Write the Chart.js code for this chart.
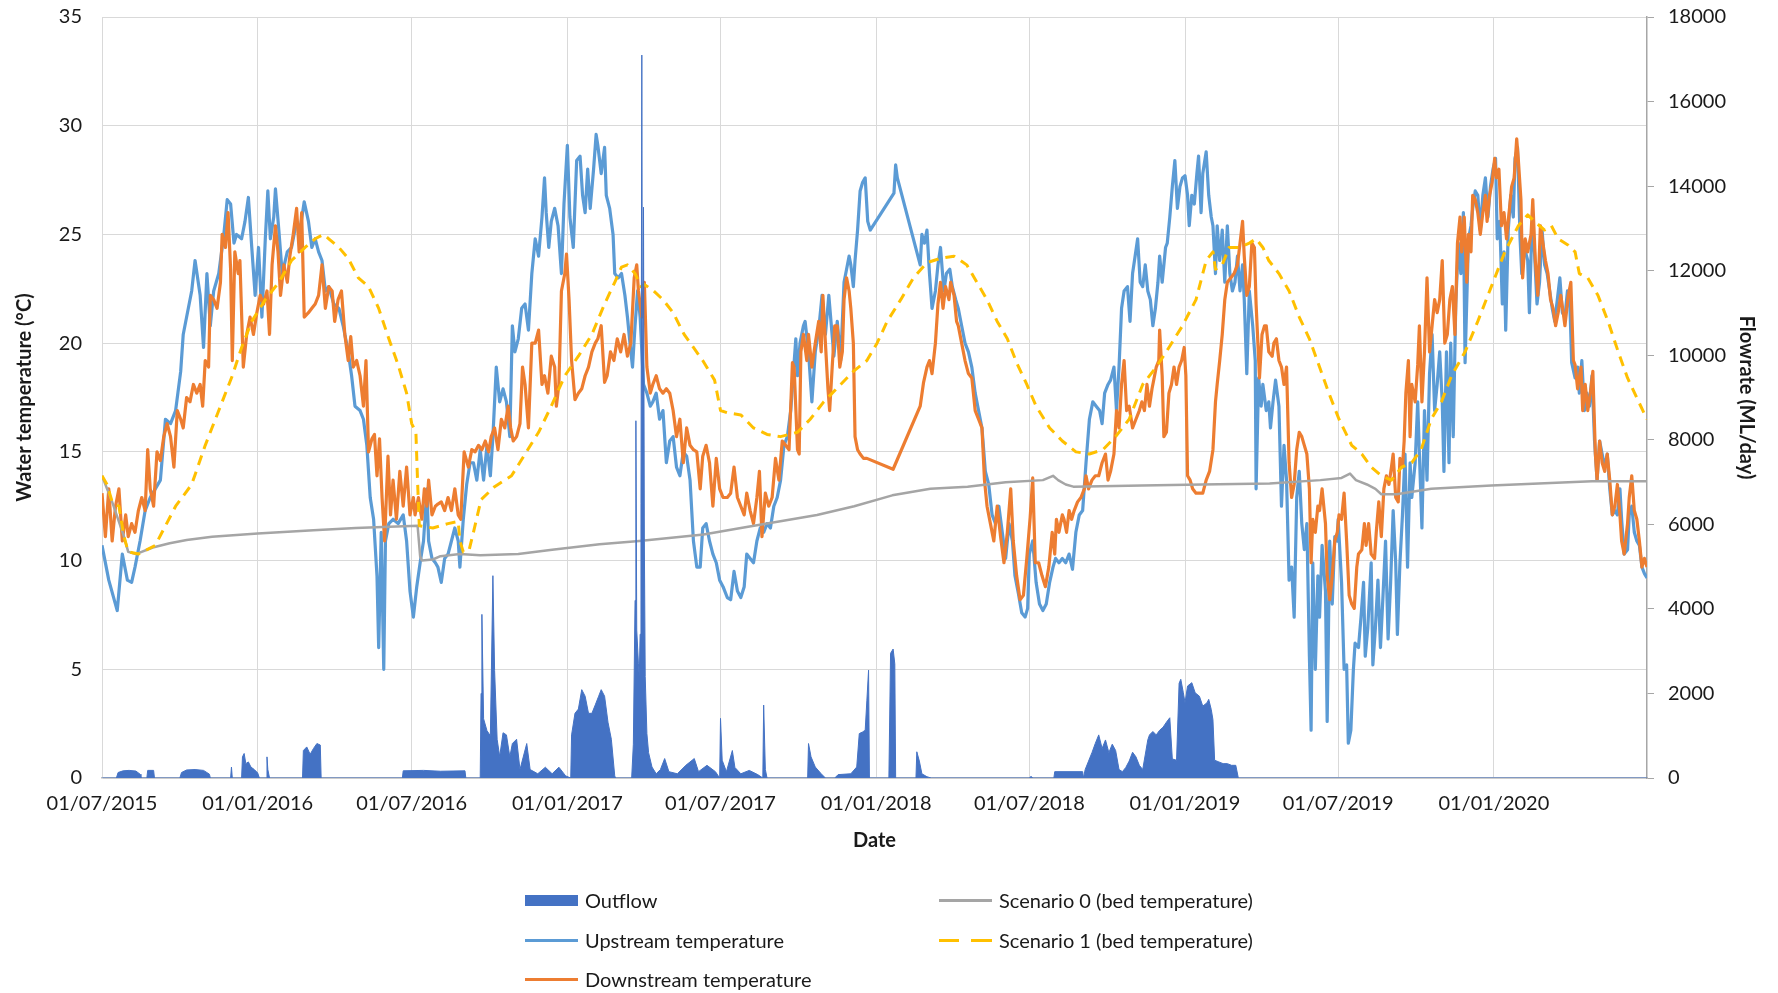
<!DOCTYPE html>
<html>
<head>
<meta charset="utf-8">
<script src="https://cdn.jsdelivr.net/npm/chart.js@4.4.1/dist/chart.umd.min.js"></script>
<style>
  html, body { margin: 0; padding: 0; background: #fff; }
  #wrap { position: relative; width: 1778px; height: 993px; font-family: Lato, "Liberation Sans", sans-serif; }
  #legend { position: absolute; left: 0; top: 0; width: 100%; height: 100%; pointer-events: none; }
  .lg-item { position: absolute; display: flex; align-items: center; font-size: 20px; color: #1a1a1a; white-space: nowrap; }
  .lg-mark { width: 53px; margin-right: 7px; }
</style>
</head>
<body>
<div id="wrap">
  <canvas id="chart" width="1778" height="993"></canvas>
  <div id="legend"></div>
</div>
<script>
// Water temperature vs outflow, Jul 2015 - Jun 2020
// x values are days since 01/07/2015

const dateTickLabels = ['01/07/2015', '01/01/2016', '01/07/2016', '01/01/2017', '01/07/2017',
  '01/01/2018', '01/07/2018', '01/01/2019', '01/07/2019', '01/01/2020'];
const lastDate = '30/06/2020';

// Outflow (ML/day), right axis
const outflow = [[0,0],[17,0],[19,130],[25,170],[32,180],[40,165],[45,90],[46,0],[53,0],[54,180],[61,180],[62,0],
  [92,0],[94,130],[100,190],[110,200],[120,180],[127,90],[128,0],[152,0],[153,260],[154,0],[165,0],[166,500],[168,580],
  [170,340],[173,380],[176,260],[180,200],[184,120],[186,0],[194,0],[195,500],[196,200],[198,0],[237,0],[238,650],
  [242,735],[246,560],[250,700],[254,815],[258,780],[259,0],[355,0],[356,170],[380,180],[400,160],[429,170],[430,0],
  [447,0],[448,2000],[449,3870],[451,1400],[455,1120],[459,1000],[462,4785],[464,2545],[467,916],[470,510],[474,1070],
  [478,1020],[482,500],[485,815],[490,916],[494,200],[502,815],[506,200],[515,100],[524,255],[532,100],[540,255],[548,50],
  [554,0],[555,1020],[559,1530],[563,1630],[567,2090],[571,1935],[575,1530],[579,1530],[583,1730],[587,1935],[590,2090],
  [594,1935],[598,1320],[602,916],[606,50],[607,0],[626,0],[628,800],[630,4200],[631,8450],[632,3500],[634,2700],
  [635,2400],[636,3400],[637,6500],[638,17100],[639,6000],[640,13500],[641,5600],[642,2400],[644,1050],[646,600],
  [650,260],[655,100],[660,200],[665,460],[670,150],[680,100],[690,300],[700,460],[705,150],[715,300],[725,150],[730,0],
  [731,1410],[733,420],[738,150],[745,650],[748,250],[755,100],[765,180],[775,80],[781,0],[782,1725],[784,200],[786,0],
  [834,0],[835,815],[838,500],[843,260],[850,100],[855,0],[866,0],[870,80],[885,100],[892,260],[895,1050],[899,1090],
  [902,1130],[904,1840],[906,2550],[907,0],[930,0],[932,2950],[935,3050],[937,2700],[938,0],[962,0],[963,620],[966,400],
  [969,100],[975,30],[980,0],[1096,0],[1098,40],[1100,0],[1125,0],[1126,150],[1159,150],[1160,0],[1162,200],[1166,400],
  [1170,600],[1174,820],[1178,1020],[1182,700],[1186,900],[1190,600],[1194,800],[1198,650],[1202,200],[1206,150],
  [1210,250],[1214,400],[1218,610],[1222,500],[1226,300],[1230,200],[1236,900],[1238,1020],[1242,1100],[1246,1020],
  [1250,1130],[1254,1200],[1258,1320],[1262,1425],[1265,450],[1270,420],[1273,2240],[1275,2335],[1278,2015],[1280,1780],
  [1283,2175],[1288,2255],[1292,2015],[1297,1935],[1301,1700],[1306,1780],[1308,1860],[1311,1620],[1313,1380],
  [1315,420],[1320,380],[1325,340],[1330,340],[1335,300],[1340,300],[1343,0],[1826,0]];

// Upstream temperature (°C)
const upstream = [[0,10.7],[8,9.1],[18,7.7],[24,10.3],[30,9.1],[35,9.0],[39,9.7],[45,10.9],[51,12.3],[57,12.9],[63,13.3],
  [69,13.7],[75,16.5],[81,16.3],[87,16.9],[93,18.7],[96,20.4],[100,21.2],[106,22.4],[110,23.8],[116,22.2],[120,19.8],
  [124,23.2],[128,20.8],[132,22.4],[138,23.2],[144,25.0],[148,26.6],[152,26.4],[156,24.6],[159,25.0],[165,24.8],
  [169,25.6],[173,26.7],[177,24.4],[181,22.2],[185,24.4],[189,21.2],[193,24.8],[196,27.0],[199,24.8],[203,25.8],
  [205,27.1],[209,25.2],[213,23.2],[219,24.2],[224,24.4],[230,25.6],[234,25.2],[239,26.5],[244,25.6],[248,24.4],
  [252,24.8],[256,24.2],[260,23.8],[264,22.4],[268,22.6],[274,21.8],[280,21.6],[285,20.8],[291,19.6],[295,18.5],
  [299,17.1],[305,16.9],[309,16.5],[313,15.3],[317,12.9],[321,11.9],[325,9.3],[327,6.0],[330,11.3],[333,5.0],[335,10.9],
  [339,11.7],[344,11.9],[350,11.7],[356,12.1],[360,10.9],[364,8.6],[368,7.4],
  [372,8.8],[376,9.9],[380,10.9],[384,13.3],[386,10.9],[390,10.1],[394,9.9],[397,9.7],[401,9.0],[405,10.1],[409,10.3],
  [413,10.9],[417,11.5],[421,10.9],[423,9.7],[427,11.9],[431,13.5],[435,14.5],[439,14.5],[443,13.7],[447,15.1],
  [451,13.7],[455,15.3],[459,13.9],[462,15.7],[466,18.9],[470,17.3],[474,17.9],[478,17.3],[482,15.7],[485,20.8],
  [488,19.6],[492,20.2],[496,21.6],[500,21.8],[504,20.6],[508,23.2],[512,24.8],[516,24.0],[520,25.8],[523,27.6],
  [525,26.0],[528,24.4],[531,25.6],[535,26.2],[539,25.4],[543,23.2],[546,26.4],[550,29.1],[553,25.8],[557,24.4],
  [561,28.4],[565,28.6],[568,26.8],[571,26.0],[574,28.0],[577,26.2],[581,28.0],[584,29.6],[586,29.1],[590,27.8],
  [594,29.0],[596,26.8],[600,26.2],[604,25.0],[606,23.2],[610,23.0],[614,23.2],[618,22.2],[621,21.2],[624,20.0],
  [627,18.9],[630,20.8],[633,22.4],[636,21.2],[640,18.1],[644,17.7],[648,17.1],[651,17.3],[655,17.7],[659,16.5],
  [663,16.9],[667,14.5],[671,15.5],[675,15.7],[679,14.3],[683,13.9],[687,15.0],[691,14.8],[695,13.7],[699,10.9],
  [703,9.7],[707,9.7],[710,11.5],[714,11.7],[718,10.9],[722,10.3],[726,9.9],[730,9.1],[734,8.8],
  [739,8.3],[743,8.2],[747,9.5],[751,8.6],[755,8.3],[759,8.8],[762,10.3],[766,10.1],[770,9.9],[774,10.9],[778,11.5],
  [782,11.3],[786,11.7],[790,11.5],[794,12.5],[798,12.9],[802,13.7],[806,15.3],[810,15.7],[814,16.9],[818,19.1],
  [820,20.2],[822,18.5],[825,20.0],[829,20.8],[831,21.0],[835,19.6],[839,17.3],[843,19.6],[847,20.6],[851,22.2],
  [855,20.4],[859,22.2],[862,20.8],[865,19.4],[869,21.0],[873,19.2],[877,22.8],[880,23.4],[883,24.0],[885,23.6],
  [888,22.6],[890,23.8],[893,25.2],[896,27.0],[899,27.4],[902,27.6],[905,25.6],[908,25.2],[936,26.9],[938,28.2],
  [940,27.6],[967,23.6],[969,25.0],[972,24.6],[975,25.2],[978,23.2],[981,21.6],[985,22.4],[988,23.6],[991,24.4],
  [995,22.4],[998,23.2],[1002,23.4],[1005,22.6],[1009,22.0],[1012,21.6],[1016,20.8],[1020,20.0],[1024,19.6],[1028,18.9],
  [1032,17.7],[1036,16.9],[1040,16.1],[1044,14.1],[1048,13.5],[1052,12.1],[1056,11.7],[1060,12.5],[1064,11.3],
  [1068,10.1],[1072,11.7],[1076,10.9],[1079,9.3],[1083,8.5],[1087,7.6],[1091,7.4],[1094,7.8],[1096,10.3],[1100,10.9],
  [1104,9.0],[1108,8.0],[1112,7.7],[1116,8.0],[1120,9.0],[1124,9.7],[1127,10.1],[1131,9.9],[1135,10.1],[1139,9.9],
  [1143,10.3],[1147,9.6],[1151,11.3],[1155,12.1],[1159,12.3],[1163,14.5],[1167,16.5],[1171,17.3],[1175,17.1],
  [1179,16.9],[1182,16.3],[1185,17.7],[1189,18.1],[1192,18.3],[1196,18.9],[1199,16.9],[1202,18.9],[1205,21.6],
  [1208,22.4],[1212,22.6],[1215,21.0],[1218,23.2],[1221,24.0],[1224,24.8],[1227,22.8],[1230,22.6],[1233,23.6],
  [1236,22.4],[1239,22.0],[1242,20.8],[1245,21.6],[1248,22.8],[1250,24.0],[1253,22.8],[1257,24.4],[1259,24.6],
  [1262,25.8],[1265,27.2],[1268,28.4],[1271,26.2],[1274,27.2],[1277,27.6],[1280,27.7],[1283,26.8],[1285,25.4],
  [1288,26.8],[1291,26.4],[1294,27.8],[1296,28.6],[1299,26.0],[1301,27.8],[1305,28.8],[1308,26.8],[1311,25.8],
  [1313,25.4],[1316,23.2],[1318,25.4],[1321,23.8],[1324,25.2],[1327,22.8],[1330,25.4],[1333,23.2],[1336,22.4],
  [1339,22.8],[1342,24.0],[1345,22.4],[1348,23.6],[1350,22.0],[1353,18.6],[1356,22.4],[1360,20.8],[1363,19.2],
  [1364,13.3],[1367,18.4],[1370,17.1],[1372,18.1],[1376,16.9],[1379,17.3],[1381,16.1],[1384,17.3],[1387,18.3],
  [1391,17.1],[1394,12.5],[1397,15.3],[1400,13.7],[1403,9.1],[1406,9.7],[1409,7.4],[1412,12.9],[1415,14.1],[1418,11.7],
  [1421,10.5],[1424,11.7],[1427,5.6],[1429,2.2],[1431,9.9],[1434,5.0],[1437,9.3],[1439,7.4],[1442,10.7],[1446,8.6],
  [1448,2.6],[1451,10.9],[1454,8.0],[1457,11.1],[1460,10.9],[1461,11.9],[1465,9.0],[1468,5.0],[1471,5.2],[1473,1.6],
  [1476,2.2],[1479,5.0],[1481,6.2],[1485,6.0],[1488,7.4],[1491,9.0],[1493,5.6],[1496,6.9],[1500,9.9],[1502,5.2],
  [1505,6.9],[1508,9.1],[1511,6.0],[1514,8.4],[1517,10.9],[1520,6.4],[1523,9.0],[1526,12.3],[1529,9.9],[1531,6.6],
  [1534,9.9],[1537,12.1],[1540,14.9],[1543,9.7],[1546,14.5],[1548,12.9],[1552,14.5],[1555,17.3],[1557,14.9],
  [1560,11.5],[1563,16.9],[1566,13.7],[1569,18.6],[1572,20.4],[1575,16.9],[1578,18.1],[1581,19.6],[1584,17.3],
  [1586,14.1],[1589,19.6],[1592,14.5],[1594,20.0],[1597,15.7],[1600,21.8],[1603,24.6],[1606,23.2],[1609,26.0],
  [1611,19.1],[1615,24.8],[1618,25.4],[1620,26.2],[1623,27.0],[1626,26.8],[1629,25.2],[1632,26.8],[1635,27.6],
  [1638,25.8],[1641,27.2],[1644,28.0],[1647,28.5],[1649,24.8],[1652,25.6],[1655,21.8],[1657,24.2],[1659,20.6],
  [1662,25.2],[1665,26.8],[1668,25.8],[1670,28.5],[1673,29.0],[1676,24.8],[1678,23.2],[1681,24.4],[1685,23.8],
  [1687,21.4],[1690,25.4],[1693,24.2],[1696,21.8],[1699,22.8],[1702,25.2],[1705,23.6],[1708,23.2],[1711,22.4],
  [1714,21.6],[1717,21.0],[1720,22.0],[1723,23.0],[1726,21.4],[1729,21.2],[1732,22.4],[1735,21.6],[1737,19.1],
  [1741,18.4],[1744,18.9],[1746,17.7],[1749,19.2],[1752,16.9],[1755,17.7],[1758,17.1],[1761,18.5],[1764,15.5],
  [1767,13.7],[1770,15.5],[1773,14.9],[1776,14.3],[1779,14.9],[1782,13.3],[1785,12.1],[1788,12.3],[1791,12.1],
  [1794,13.3],[1796,11.9],[1799,10.3],[1803,10.5],[1805,12.1],[1808,12.5],[1811,11.3],[1814,10.9],[1817,10.7],
  [1820,9.7],[1823,9.4],[1826,9.2]];

// Downstream temperature (°C)
const downstream = [[0,13.1],[4,11.1],[8,13.3],[12,10.9],[16,12.5],[20,13.3],[24,10.9],[28,12.1],[31,11.1],[35,11.7],
  [39,11.3],[43,12.3],[47,12.9],[51,12.3],[54,15.1],[57,13.3],[61,12.5],[65,15.0],[69,14.6],[73,15.7],[77,16.3],
  [81,15.7],[85,14.3],[89,16.9],[93,16.5],[96,16.1],[100,17.5],[104,17.3],[108,18.1],[112,17.7],[116,18.1],[119,17.1],
  [122,19.2],[126,18.9],[128,22.2],[132,22.0],[136,21.6],[140,22.8],[142,25.0],[146,24.4],[149,26.0],[152,23.4],
  [154,19.2],[157,24.2],[161,23.2],[163,23.8],[167,18.9],[171,20.4],[175,21.2],[179,20.4],[183,21.4],[187,22.2],
  [191,21.8],[195,22.4],[198,20.4],[201,23.6],[205,25.4],[208,24.2],[211,22.2],[215,23.6],[219,22.8],[222,24.0],
  [226,25.0],[230,26.2],[233,24.2],[236,26.0],[239,21.2],[244,21.4],[248,21.6],[252,21.8],[256,22.2],[260,23.6],
  [264,21.6],[268,22.6],[272,22.4],[275,21.0],[279,22.0],[283,22.4],[287,20.4],[291,19.2],[294,20.3],[297,18.9],
  [301,19.2],[305,18.5],[309,17.1],[312,19.2],[315,15.0],[319,15.6],[322,15.8],[325,13.9],[328,15.6],[331,12.9],
  [334,10.9],[338,14.8],[341,12.1],[344,13.7],[348,11.9],[352,14.1],[356,12.5],[360,14.3],[364,12.1],[368,12.9],
  [370,12.1],[374,12.9],[378,11.9],[381,13.3],[384,12.5],[386,13.7],[390,12.1],[394,12.5],[397,12.6],[401,12.7],
  [405,12.3],[409,12.9],[413,12.3],[417,13.3],[421,12.1],[424,11.9],[428,15.0],[433,14.3],[437,15.1],[441,15.0],
  [445,15.3],[449,15.1],[453,15.5],[457,15.0],[460,15.7],[464,16.1],[468,15.1],[472,16.5],[476,16.1],[480,17.1],
  [483,16.1],[486,15.5],[490,15.7],[494,16.3],[497,18.9],[500,18.1],[504,16.1],[508,20.0],[512,20.0],[516,20.6],
  [520,18.1],[523,18.5],[527,17.7],[531,19.4],[535,18.9],[537,17.1],[540,18.1],[543,22.4],[547,23.2],[549,24.1],
  [552,22.0],[555,19.2],[559,17.4],[563,17.7],[567,17.9],[571,18.5],[575,18.9],[579,19.6],[583,20.0],[586,20.2],
  [590,20.8],[594,18.2],[597,18.5],[601,19.6],[605,19.2],[609,20.2],[613,19.6],[617,20.4],[621,19.4],[625,20.0],
  [629,23.0],[632,23.6],[634,22.4],[638,21.2],[641,22.8],[644,18.9],[648,17.7],[651,18.1],[655,18.5],[659,17.9],
  [663,17.7],[667,17.9],[671,17.7],[675,16.9],[679,15.7],[683,16.5],[687,14.5],[691,16.1],[695,15.3],[699,15.1],
  [703,15.0],[707,13.3],[710,14.8],[714,15.3],[718,14.5],[722,12.5],[726,14.7],[730,13.3],[734,12.9],
  [739,12.9],[743,13.1],[747,14.3],[751,12.9],[755,12.5],[759,12.1],[762,13.1],[766,12.3],[770,11.7],[774,12.9],
  [777,14.1],[780,11.1],[784,13.1],[788,12.5],[792,12.9],[796,14.7],[800,13.7],[804,15.5],[808,15.3],[812,15.1],
  [816,19.1],[818,18.9],[822,15.1],[824,14.9],[826,19.6],[829,20.4],[833,19.2],[835,20.4],[839,18.9],[843,20.0],
  [847,21.0],[850,19.6],[852,22.2],[855,20.0],[858,17.9],[860,16.9],[863,18.9],[866,20.8],[869,20.8],[872,18.9],
  [875,19.6],[877,22.0],[880,23.0],[883,22.4],[885,21.6],[888,20.0],[890,15.7],[893,15.1],[896,14.9],[900,14.7],
  [904,14.7],[935,14.2],[967,17.1],[971,18.2],[975,18.9],[978,19.2],[981,18.6],[985,20.0],[988,21.8],[991,22.8],
  [994,21.6],[997,22.6],[1001,22.0],[1003,22.8],[1007,22.2],[1010,21.0],[1012,20.8],[1016,20.0],[1020,19.2],
  [1024,18.6],[1028,18.4],[1032,16.9],[1036,16.5],[1040,16.1],[1043,13.7],[1046,12.5],[1050,11.7],[1054,10.9],
  [1058,12.5],[1062,11.1],[1066,9.9],[1070,11.3],[1074,13.3],[1077,10.9],[1081,9.3],[1085,8.2],[1089,8.4],[1093,10.1],
  [1097,12.0],[1100,13.8],[1103,9.9],[1107,9.9],[1111,9.3],[1115,8.8],[1119,9.7],[1123,11.3],[1126,10.3],[1128,11.9],
  [1131,11.3],[1135,12.1],[1137,11.9],[1140,11.3],[1143,12.3],[1146,11.9],[1149,12.3],[1153,12.7],[1157,12.9],
  [1161,13.3],[1163,13.9],[1166,13.3],[1170,13.7],[1174,13.9],[1178,13.9],[1182,14.5],[1186,14.9],[1189,13.7],
  [1192,14.1],[1196,14.9],[1199,16.9],[1202,16.1],[1205,18.1],[1208,19.2],[1211,16.9],[1214,17.1],[1218,16.1],
  [1222,16.5],[1226,16.9],[1229,17.3],[1232,16.9],[1235,18.1],[1238,17.1],[1241,17.9],[1244,18.5],[1246,18.9],
  [1249,19.2],[1250,20.6],[1253,18.5],[1255,15.7],[1258,15.9],[1261,17.7],[1264,18.1],[1267,18.9],[1270,18.1],
  [1273,18.9],[1276,19.2],[1279,19.8],[1281,18.5],[1283,13.9],[1286,13.7],[1289,13.3],[1293,13.1],[1297,13.1],
  [1301,13.1],[1305,13.7],[1309,14.1],[1313,15.1],[1316,17.3],[1318,18.1],[1321,19.2],[1324,20.4],[1327,22.0],
  [1330,22.8],[1334,23.0],[1338,23.2],[1342,23.6],[1345,24.6],[1348,25.6],[1350,24.0],[1353,22.2],[1356,22.6],
  [1359,24.6],[1362,24.4],[1364,21.8],[1368,18.4],[1371,20.4],[1374,20.8],[1376,20.8],[1379,19.6],[1383,19.4],
  [1385,20.0],[1388,20.2],[1391,19.2],[1394,18.9],[1397,18.1],[1400,18.9],[1403,14.5],[1406,12.9],[1409,13.5],
  [1412,15.1],[1415,15.9],[1418,15.7],[1421,15.3],[1424,14.9],[1427,13.3],[1429,9.9],[1431,11.9],[1434,11.3],
  [1437,12.5],[1439,12.3],[1442,13.3],[1446,11.7],[1448,9.3],[1451,8.2],[1454,9.3],[1457,10.9],[1460,11.3],
  [1462,12.1],[1465,11.9],[1468,13.1],[1471,10.9],[1474,8.4],[1477,8.0],[1480,7.8],[1483,9.7],[1485,10.3],[1489,10.5],
  [1492,11.7],[1494,10.7],[1497,11.7],[1500,10.3],[1504,10.1],[1506,11.3],[1509,12.7],[1512,11.1],[1515,13.3],
  [1518,13.9],[1521,13.5],[1524,14.3],[1526,14.9],[1529,12.9],[1532,12.7],[1534,14.7],[1537,14.3],[1539,15.5],
  [1541,17.7],[1544,19.2],[1546,15.7],[1548,18.1],[1552,17.3],[1555,19.0],[1557,20.8],[1560,17.3],[1563,19.6],
  [1566,23.0],[1569,19.6],[1572,20.8],[1575,22.0],[1578,21.4],[1581,22.0],[1584,23.8],[1587,20.0],[1590,20.4],
  [1593,22.0],[1596,22.6],[1599,20.4],[1602,24.6],[1605,25.8],[1607,24.2],[1610,25.8],[1613,22.8],[1615,25.0],
  [1618,24.2],[1620,26.8],[1623,26.6],[1626,26.0],[1629,25.0],[1632,26.0],[1635,26.8],[1637,25.6],[1640,26.8],
  [1643,27.4],[1646,28.5],[1648,27.6],[1651,28.0],[1654,25.4],[1657,26.0],[1660,24.8],[1663,26.0],[1666,27.2],
  [1669,27.6],[1672,29.4],[1674,28.4],[1677,26.6],[1679,23.0],[1682,24.8],[1685,24.2],[1689,25.0],[1691,26.6],
  [1694,23.8],[1697,22.2],[1700,25.4],[1703,24.6],[1706,23.8],[1709,23.2],[1712,22.0],[1715,21.6],[1718,20.8],
  [1721,21.4],[1724,22.2],[1727,21.4],[1729,20.8],[1733,22.2],[1736,22.8],[1739,19.2],[1741,19.0],[1744,17.9],
  [1748,18.9],[1750,16.9],[1753,18.1],[1756,16.9],[1759,17.7],[1762,18.7],[1765,14.9],[1767,13.7],[1770,15.5],
  [1773,14.5],[1776,14.1],[1779,14.9],[1782,13.7],[1785,12.1],[1788,12.5],[1791,13.5],[1794,12.1],[1796,10.9],
  [1799,10.3],[1803,11.7],[1805,12.9],[1808,13.9],[1811,12.3],[1814,11.9],[1817,10.9],[1820,9.7],[1823,10.1],[1826,9.7]];

// Scenario 0 (bed temperature)
const scenario0 = [[0,13.9],[12,12.7],[26,11.1],[31,10.4],[40,10.3],[60,10.6],[80,10.8],[100,10.95],[130,11.1],
  [184,11.25],[250,11.4],[300,11.5],[340,11.55],[373,11.6],[376,10.2],[378,10.0],[391,10.05],[400,10.2],[423,10.3],
  [447,10.25],[492,10.3],[532,10.5],[588,10.75],[635,10.9],[711,11.2],[755,11.5],[800,11.8],[845,12.1],[889,12.5],
  [934,13.0],[979,13.3],[1023,13.4],[1068,13.6],[1112,13.7],[1124,13.9],[1130,13.7],[1139,13.5],[1148,13.4],
  [1229,13.45],[1300,13.5],[1380,13.55],[1440,13.7],[1465,13.8],[1475,14.0],[1482,13.7],[1495,13.5],[1505,13.3],
  [1512,13.05],[1530,13.05],[1571,13.3],[1642,13.45],[1761,13.65],[1826,13.65]];

// Scenario 1 (bed temperature)
const scenario1 = [[0,13.9],[6,13.5],[12,12.7],[20,12.5],[26,11.1],[31,10.4],[43,10.3],[63,10.7],[71,11.3],[87,12.5],
  [106,13.5],[122,15.3],[138,16.9],[154,18.5],[165,19.8],[177,21.0],[193,22.0],[209,22.8],[224,23.8],[240,24.4],
  [252,24.8],[262,25.0],[268,24.8],[280,24.4],[291,23.9],[303,23.0],[315,22.6],[327,21.6],[339,20.2],[350,19.0],
  [360,17.7],[366,16.3],[371,15.9],[373,13.6],[375,11.6],[391,11.5],[409,11.7],[421,11.8],[423,10.9],[427,10.4],
  [434,10.5],[439,11.3],[448,12.8],[464,13.4],[484,13.9],[500,14.9],[516,15.9],[531,17.1],[547,18.5],[563,19.4],
  [579,20.4],[594,21.8],[606,22.8],[614,23.5],[621,23.6],[630,23.2],[637,22.6],[641,22.7],[652,22.4],[663,22.0],
  [675,21.4],[688,20.4],[699,19.8],[710,19.2],[724,18.3],[731,16.9],[739,16.8],[755,16.7],[770,16.1],[786,15.8],
  [802,15.7],[822,15.9],[837,16.5],[853,17.3],[873,18.1],[888,18.7],[904,19.2],[916,20.0],[928,21.0],[944,22.0],
  [959,23.0],[975,23.7],[991,23.9],[1007,24.0],[1022,23.6],[1034,22.8],[1046,22.0],[1058,21.0],[1070,20.2],
  [1081,19.1],[1093,18.1],[1104,17.1],[1120,16.1],[1135,15.5],[1151,15.0],[1167,14.9],[1183,15.1],[1198,15.7],
  [1214,16.5],[1230,18.1],[1246,18.9],[1261,19.8],[1277,20.8],[1293,22.0],[1305,23.8],[1313,24.2],[1316,23.4],
  [1324,23.6],[1332,24.4],[1344,24.4],[1356,24.6],[1364,24.8],[1372,24.4],[1379,23.8],[1391,23.2],[1403,22.4],
  [1415,21.2],[1427,20.2],[1439,18.9],[1450,17.7],[1462,16.5],[1477,15.3],[1489,14.9],[1500,14.3],[1512,13.9],
  [1524,13.7],[1536,14.3],[1548,14.5],[1559,15.1],[1571,16.5],[1583,17.3],[1595,18.5],[1611,19.6],[1626,21.0],
  [1642,22.6],[1658,24.2],[1674,25.4],[1685,25.9],[1693,25.6],[1705,25.2],[1713,25.4],[1721,24.8],[1733,24.5],
  [1741,24.2],[1746,23.2],[1756,23.0],[1768,22.2],[1780,21.0],[1792,19.6],[1803,18.4],[1815,17.4],[1826,16.5]];

const startUTC = Date.UTC(2015, 6, 1);
function dayOf(label) {
  const p = label.split('/').map(Number);
  return Math.round((Date.UTC(p[2], p[1] - 1, p[0]) - startUTC) / 86400000);
}
const tickDays = dateTickLabels.map(dayOf);
const pts = arr => arr.map(p => ({ x: p[0], y: p[1] }));

Chart.defaults.font.family = 'Lato, "Liberation Sans", sans-serif';
Chart.defaults.font.size = 20;
Chart.defaults.color = '#1a1a1a';

const lineBase = { pointRadius: 0, tension: 0, borderJoinStyle: 'round', fill: false, yAxisID: 'y' };

// vertical axes: fixed width, and no extra room above/below the plot for the end labels
function fixWidth(w) {
  return s => { s.width = w; s.paddingTop = 0; s.paddingBottom = 0; };
}

const chart = new Chart(document.getElementById('chart'), {
  type: 'line',
  data: {
    datasets: [
      { label: 'Outflow', data: pts(outflow), yAxisID: 'y2', pointRadius: 0, tension: 0, borderWidth: 1,
        borderColor: '#4472C4', backgroundColor: '#4472C4', fill: 'origin', order: 0 },
      Object.assign({ label: 'Upstream temperature', data: pts(upstream), borderColor: '#5B9BD5', borderWidth: 3.2, order: 4 }, lineBase),
      Object.assign({ label: 'Downstream temperature', data: pts(downstream), borderColor: '#ED7D31', borderWidth: 3.2, order: 3 }, lineBase),
      Object.assign({ label: 'Scenario 0 (bed temperature)', data: pts(scenario0), borderColor: '#A5A5A5', borderWidth: 2.5, order: 2 }, lineBase),
      Object.assign({ label: 'Scenario 1 (bed temperature)', data: pts(scenario1), borderColor: '#FFC000', borderWidth: 3,
        borderDash: [10, 7], order: 1 }, lineBase),
    ],
  },
  options: {
    responsive: false, animation: false, devicePixelRatio: 1,
    layout: { padding: { left: 0, right: 0, top: 17, bottom: 130 } },
    plugins: { legend: { display: false }, tooltip: { enabled: false } },
    scales: {
      x: {
        type: 'linear', min: 0, max: dayOf(lastDate),
        afterBuildTicks: s => { s.ticks = tickDays.map(v => ({ value: v })); },
        afterFit: s => { s.height = 85; },
        ticks: { padding: 14, maxRotation: 0, autoSkip: false,
          callback: v => dateTickLabels[tickDays.indexOf(v)] },
        grid: { color: '#D9D9D9', lineWidth: 1, drawTicks: false },
        border: { color: '#BFBFBF', width: 1.5 },
        title: { display: true, text: 'Date', font: { weight: 'bold', size: 20 }, padding: { top: 0, bottom: 10 } },
      },
      y: {
        position: 'left', min: 0, max: 35,
        ticks: { stepSize: 5, padding: 20 },
        afterFit: fixWidth(102),
        grid: { color: '#D9D9D9', lineWidth: 1, drawTicks: false },
        border: { color: '#D9D9D9' },
        title: { display: true, text: 'Water temperature (°C)', font: { weight: 'bold', size: 20 }, padding: { top: 13, bottom: 0 } },
      },
      y2: {
        position: 'right', min: 0, max: 18000,
        ticks: { stepSize: 2000, padding: 14, callback: v => String(v) },
        afterFit: fixWidth(131),
        grid: { drawOnChartArea: false, drawTicks: true, tickLength: 7, color: '#A6A6A6' },
        border: { color: '#A6A6A6', width: 1.5 },
        title: { display: true, text: 'Flowrate (ML/day)', font: { weight: 'bold', size: 20 }, padding: { top: 20, bottom: 0 } },
      },
    },
  },
});

// legend laid out like the spreadsheet's: two columns, three rows
const legendSpots = [
  { ds: 0, left: 525, top: 900, mark: 'box' },
  { ds: 3, left: 939, top: 900, mark: 'line' },
  { ds: 1, left: 525, top: 940, mark: 'line' },
  { ds: 4, left: 939, top: 940, mark: 'dash' },
  { ds: 2, left: 525, top: 979, mark: 'line' },
];
const lg = document.getElementById('legend');
legendSpots.forEach(s => {
  const ds = chart.data.datasets[s.ds];
  const c = ds.borderColor;
  let markCss;
  if (s.mark === 'box') markCss = 'height:11px;background:' + c + ';';
  else if (s.mark === 'dash') markCss = 'height:3px;background:linear-gradient(to right,' + c + ' 0 20px,transparent 20px 32px,' + c + ' 32px 53px);';
  else markCss = 'height:3px;background:' + c + ';';
  const el = document.createElement('div');
  el.className = 'lg-item';
  el.style.left = s.left + 'px';
  el.style.top = (s.top - 13) + 'px';
  el.style.height = '26px';
  el.innerHTML = '<div class="lg-mark" style="' + markCss + '"></div><span>' + ds.label + '</span>';
  lg.appendChild(el);
});
</script>
</body>
</html>
